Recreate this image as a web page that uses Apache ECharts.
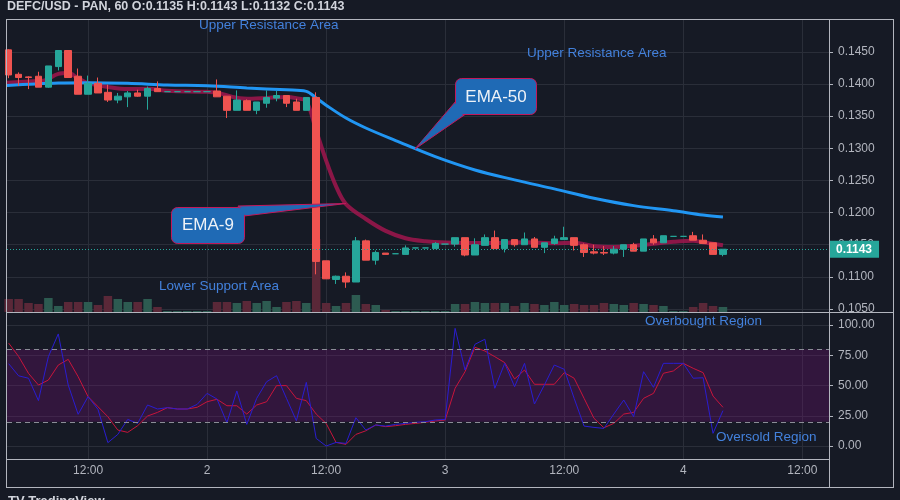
<!DOCTYPE html>
<html><head><meta charset="utf-8">
<script src="https://cdn.jsdelivr.net/npm/echarts@6/dist/echarts.min.js"></script>
<style>html,body{margin:0;padding:0;background:#161a25;}#c{width:900px;height:500px;}</style>
</head><body><div id="c"></div>
<script>
// hours since day-1 00:00 (one candle per hour)
const hours = [4,5,6,7,8,9,10,11,12,13,14,15,16,17,18,19,20,21,22,23,24,25,26,27,28,29,30,31,32,33,34,35,36,37,38,39,40,41,42,43,44,45,46,47,48,49,50,51,52,53,54,55,56,57,58,59,60,61,62,63,64,65,66,67,68,69,70,71,72,73,74,75,76];
const opens = [0.1453,0.1415,0.1411,0.1412,0.1395,0.1427,0.1452,0.1412,0.1384,0.1401,0.1387,0.1375,0.1380,0.1386,0.1381,0.1393,0.1388,0.1388,0.1388,0.1388,0.1388,0.1389,0.1381,0.1359,0.1374,0.1359,0.1370,0.1378,0.1382,0.1372,0.1359,0.1379,0.1125,0.1096,0.1101,0.1092,0.1156,0.1126,0.1137,0.1136,0.1135,0.1145,0.1145,0.1144,0.1151,0.1151,0.1161,0.1134,0.1149,0.1161,0.1144,0.1158,0.1150,0.1159,0.1146,0.1152,0.1158,0.1161,0.1150,0.1139,0.1138,0.1137,0.1143,0.1150,0.1140,0.1159,0.1153,0.1163,0.1163,0.1164,0.1157,0.1153,0.1135];
const closes = [0.1414,0.1410,0.1410,0.1395,0.1428,0.1452,0.1410,0.1384,0.1401,0.1386,0.1375,0.1381,0.1386,0.1381,0.1393,0.1388,0.1388,0.1388,0.1388,0.1388,0.1388,0.1380,0.1359,0.1375,0.1359,0.1372,0.1379,0.1382,0.1370,0.1359,0.1379,0.1124,0.1097,0.1101,0.1092,0.1156,0.1126,0.1138,0.1135,0.1136,0.1145,0.1145,0.1145,0.1152,0.1151,0.1161,0.1134,0.1150,0.1161,0.1144,0.1158,0.1150,0.1159,0.1146,0.1153,0.1159,0.1161,0.1149,0.1138,0.1137,0.1137,0.1143,0.1150,0.1140,0.1159,0.1153,0.1164,0.1163,0.1163,0.1157,0.1152,0.1135,0.1143];
const lows = [0.1409,0.1397,0.1392,0.1395,0.1394,0.1421,0.1410,0.1384,0.1384,0.1386,0.1372,0.1370,0.1364,0.1380,0.1360,0.1388,0.1388,0.1388,0.1388,0.1388,0.1388,0.1380,0.1347,0.1359,0.1359,0.1353,0.1363,0.1373,0.1364,0.1359,0.1359,0.1104,0.1097,0.1089,0.1083,0.1092,0.1126,0.1119,0.1135,0.1136,0.1135,0.1145,0.1145,0.1144,0.1151,0.1147,0.1132,0.1134,0.1149,0.1144,0.1138,0.1147,0.1150,0.1146,0.1137,0.1150,0.1158,0.1141,0.1131,0.1135,0.1134,0.1135,0.1131,0.1140,0.1140,0.1150,0.1153,0.1163,0.1163,0.1157,0.1152,0.1135,0.1132];
const highs = [0.1454,0.1418,0.1412,0.1419,0.1428,0.1452,0.1452,0.1424,0.1413,0.1410,0.1399,0.1386,0.1389,0.1391,0.1396,0.1404,0.1388,0.1388,0.1388,0.1388,0.1388,0.1407,0.1381,0.1390,0.1376,0.1372,0.1390,0.1389,0.1382,0.1377,0.1379,0.1387,0.1125,0.1102,0.1107,0.1162,0.1158,0.1141,0.1137,0.1136,0.1149,0.1145,0.1145,0.1154,0.1151,0.1161,0.1161,0.1160,0.1166,0.1172,0.1158,0.1158,0.1169,0.1162,0.1153,0.1164,0.1178,0.1161,0.1152,0.1150,0.1148,0.1148,0.1150,0.1153,0.1159,0.1165,0.1164,0.1163,0.1163,0.1170,0.1166,0.1153,0.1143];
const volumes = [13,13,9,8,14,6,10,10,10,7,16,13,10,10,13,5,1,1,1,1,1,10,10,9,11,9,11,5,10,11,9,73,9,6,9,17,8,7,2,1,1,1,1,1,1,8,8,10,9,9,9,6,9,8,7,10,7,8,7,7,9,8,7,9,8,7,6,1,1,5,9,6,5];
// EMA lines
const ema50Hours = [3.83,9,12,16,20,24,28,32,34,35,36,38,40,43,47,51,55,59,63,67,71,74,76];
const ema50Values = [0.13977,0.14015,0.1402,0.1401,0.13985,0.13972,0.13938,0.13908,0.13885,0.13782,0.1367,0.1347,0.13315,0.1312,0.1287,0.12663,0.12509,0.12368,0.12223,0.12108,0.12029,0.11962,0.1193];
const ema9Hours = [3.83,6,7.5,9,10,11,12,14,16,18,20,24,25,27,28.5,30,32,33,34,35,36,37,38,40,42,44,46,48,52,56,59,61,63,65,67,69,71,73,74,76];
const ema9Values = [0.14018,0.14038,0.14049,0.14157,0.14169,0.14089,0.14012,0.13954,0.1392,0.13926,0.13895,0.13877,0.13865,0.13785,0.13769,0.13782,0.13797,0.13777,0.13731,0.13269,0.12808,0.12408,0.12131,0.119,0.11715,0.116,0.11554,0.11535,0.11526,0.11538,0.11523,0.11531,0.11477,0.11465,0.11485,0.11515,0.11546,0.11562,0.11538,0.11492];
// oscillator pane (per hour)
const oscFast = [68,58,56,37.5,73.8,92.6,50.4,26.2,40.8,30.3,2.8,9.6,22,18.7,33.9,30.6,31.7,30.6,30.6,34.4,43.5,38.8,19.3,45.5,17.9,39.4,53.1,58.1,39.4,20.9,52.6,6.3,0,3,2.2,23.4,13.2,17.4,16.5,17.9,18.7,19.6,20.1,21.5,22,97.2,62.8,84,88.2,47.7,68.3,49,68.3,34.7,50.4,66.9,63.4,39.4,16.5,15.4,14.6,26.4,38,24.2,61.4,48.5,68.3,68.3,68.3,56,56.4,10.5,29.2];
const oscSlow = [85,74,60,50.4,54.5,66.9,71.6,57.3,40.8,32.5,24.2,13.2,11.3,16.8,24.8,27.8,31.7,30.6,30.6,32,36.6,38.6,33.3,33.3,26.4,33.9,36.6,49.9,49.9,39.4,37.5,26.4,18.7,3,1.4,9.6,12.6,17.4,16,16.8,17.9,18.7,19.6,20.7,21.5,47.7,61.4,81.6,78.5,73.8,68.9,55.4,62.8,51,51,51,60.6,56,39.4,22.9,15.1,18.7,26.4,27.8,39.4,43.5,60.1,62,68.3,64.2,60.6,41.3,32];
const priceTicks = [0.105,0.110,0.115,0.120,0.125,0.130,0.135,0.140,0.145];
const oscTicks = [0,25,50,75,100];
const oscBands = [20,80];
const timeTicks = [12,24,36,48,60,72,84];
const timeLabels = ['12:00','2','12:00','3','12:00','4','12:00'];
const lastPrice = closes[closes.length-1];

const UP='#26a69a', DN='#ef5350', VUP='#2d5b51', VDN='#5a2838';
const GRID='#2a2e39', AX='#b2b5be', FRAME='#b2b5be', ANN='#4381dc';
const FONT='Liberation Sans';

const candleData = hours.map((h,i)=>[h, opens[i], closes[i], lows[i], highs[i]]);
const volData = hours.map((h,i)=>({value:[h, volumes[i]], itemStyle:{color: closes[i]>=opens[i]?VUP:VDN}}));
const ema50Data = ema50Hours.map((h,i)=>[h, ema50Values[i]]);
const ema9Data = ema9Hours.map((h,i)=>[h, ema9Values[i]]);
const fastData = hours.map((h,i)=>[h, oscFast[i]]);
const slowData = hours.map((h,i)=>[h, oscSlow[i]]);

const chart = echarts.init(document.getElementById('c'), null, {renderer:'canvas', width:900, height:500});

function hline(x1,y,x2){return {type:'line', silent:true, z:50, shape:{x1:x1,y1:y,x2:x2,y2:y}, style:{stroke:FRAME, lineWidth:1}};}
function vline(x,y1,y2){return {type:'line', silent:true, z:50, shape:{x1:x,y1:y1,x2:x,y2:y2}, style:{stroke:FRAME, lineWidth:1}};}
function ann(text,x,y){return {type:'text', silent:true, z:60, x:x, y:y, style:{text:text, fill:ANN, font:'13.5px '+FONT, textVerticalAlign:'middle'}};}

const option = {
  backgroundColor:'#161a25',
  animation:false,
  textStyle:{fontFamily:FONT},
  title:{text:'DEFC/USD - PAN, 60 O:0.1135 H:0.1143 L:0.1132 C:0.1143', left:7, top:0, padding:0,
    textStyle:{color:'#d1d4dc', fontSize:12.5, fontWeight:'bold', fontFamily:FONT, lineHeight:13}},
  grid:[
    {left:7, top:19, width:822, height:293, outerBoundsMode:'none'},
    {left:7, top:312, width:822, height:147, outerBoundsMode:'none'}
  ],
  xAxis:[
    {type:'value', gridIndex:0, min:3.83, max:86.69, axisLine:{show:false},
     axisTick:{show:false, customValues:timeTicks}, axisLabel:{show:false, customValues:timeTicks},
     splitLine:{show:true, lineStyle:{color:GRID, width:1}}},
    {type:'value', gridIndex:1, min:3.83, max:86.69, axisLine:{show:false},
     axisTick:{show:false, customValues:timeTicks},
     axisLabel:{customValues:timeTicks, formatter:(v)=>{const k=timeTicks.indexOf(Math.round(v)); return k>=0?timeLabels[k]:'';}, color:AX, fontSize:12, margin:6, fontFamily:FONT},
     splitLine:{show:true, lineStyle:{color:GRID, width:1}}}
  ],
  yAxis:[
    {type:'value', gridIndex:0, position:'right', min:0.10454, max:0.1501,
     axisLine:{show:false},
     axisTick:{show:true, customValues:priceTicks, length:4, lineStyle:{color:AX}},
     axisLabel:{customValues:priceTicks, formatter:(v)=>v.toFixed(4), color:AX, fontSize:12, margin:9, fontFamily:FONT},
     splitLine:{show:true, lineStyle:{color:GRID, width:1}}},
    {type:'value', gridIndex:0, position:'left', min:0, max:293, show:false, splitLine:{show:false}},
    {type:'value', gridIndex:1, position:'right', min:-10.7, max:110.7,
     axisLine:{show:false},
     axisTick:{show:true, customValues:oscTicks, length:4, lineStyle:{color:AX}},
     axisLabel:{customValues:oscTicks, formatter:(v)=>v.toFixed(2), color:AX, fontSize:12, margin:9, fontFamily:FONT},
     splitLine:{show:true, lineStyle:{color:GRID, width:1}}}
  ],
  series:[
    {type:'bar', name:'Volume', xAxisIndex:0, yAxisIndex:1, data:volData, barWidth:8.5, z:1, silent:true},
    {type:'line', name:'EMA-9', xAxisIndex:0, yAxisIndex:0, data:ema9Data, smooth:0.35, showSymbol:false, z:2, silent:true,
     lineStyle:{color:'rgba(160,22,78,0.85)', width:4}},
    {type:'line', name:'EMA-50', xAxisIndex:0, yAxisIndex:0, data:ema50Data, smooth:0.35, showSymbol:false, z:3, silent:true,
     lineStyle:{color:'#2196f3', width:3},
     markLine:{silent:true, precision:4, symbol:['none','none'], lineStyle:{color:UP, type:[1,2], width:1},
       label:{show:true, position:'end', distance:1, formatter:()=>lastPrice.toFixed(4), color:'#ffffff', fontWeight:'bold', fontSize:12,
         backgroundColor:UP, padding:[3,7,2,6], fontFamily:FONT},
       data:[{yAxis:lastPrice}]}},
    {type:'candlestick', name:'DEFC/USD', xAxisIndex:0, yAxisIndex:0, data:candleData, barWidth:7, z:4, silent:true,
     encode:{x:0, y:[1,2,3,4]},
     itemStyle:{color:UP, color0:DN, borderColor:UP, borderColor0:DN, borderColorDoji:UP, borderWidth:1}},
    {type:'line', name:'Slow', xAxisIndex:1, yAxisIndex:2, data:slowData, showSymbol:false, z:3, silent:true,
     lineStyle:{color:'#c8143c', width:1},
     markArea:{silent:true, itemStyle:{color:'rgba(126,14,126,0.27)'}, data:[[{yAxis:oscBands[0]},{yAxis:oscBands[1]}]]},
     markLine:{silent:true, symbol:['none','none'], label:{show:false}, lineStyle:{color:'#8a8d96', type:[5,4], width:1},
       data:[{yAxis:oscBands[0]},{yAxis:oscBands[1]}]}},
    {type:'line', name:'Fast', xAxisIndex:1, yAxisIndex:2, data:fastData, showSymbol:false, z:4, silent:true,
     lineStyle:{color:'#2a1dd0', width:1}}
  ],
  graphic:[
    hline(6,19.5,894), hline(6,487.5,894), hline(6,312.5,894), hline(6,459.5,830),
    vline(6.5,19,488), vline(893.5,19,488), vline(829.5,19,488),
    ann('Upper Resistance Area',199,25), ann('Upper Resistance Area',527,53), ann('Lower Support Area',159,286),
    ann('Overbought Region',645,321), ann('Oversold Region',716,437),
    {type:'text', silent:true, z:40, x:8, y:495, style:{text:'TV TradingView', fill:'#d1d4dc', font:'bold 13px '+FONT, textVerticalAlign:'top'}},
    // EMA-50 callout
    {type:'polygon', silent:true, z:70, shape:{points:[[456,101],[415,149],[465,114.5]]}, style:{fill:'#1f6ab5', stroke:'#c2185b', lineWidth:1}},
    {type:'rect', silent:true, z:71, shape:{x:455.5,y:78.5,width:81,height:36,r:6}, style:{fill:'#1f6ab5', stroke:'#c2185b', lineWidth:1}},
    {type:'polygon', silent:true, z:72, shape:{points:[[457,102],[420,143],[464,113.5]]}, style:{fill:'#1f6ab5'}},
    {type:'text', silent:true, z:73, x:496, y:97, style:{text:'EMA-50', fill:'#eef2f7', font:'17px '+FONT, align:'center', verticalAlign:'middle'}},
    // EMA-9 callout
    {type:'polygon', silent:true, z:70, shape:{points:[[238,206],[346,203.5],[244,216]]}, style:{fill:'#1f6ab5', stroke:'#c2185b', lineWidth:1}},
    {type:'rect', silent:true, z:71, shape:{x:171.5,y:207.5,width:73,height:36,r:6}, style:{fill:'#1f6ab5', stroke:'#c2185b', lineWidth:1}},
    {type:'polygon', silent:true, z:72, shape:{points:[[240,208],[330,204.5],[243,215]]}, style:{fill:'#1f6ab5'}},
    {type:'text', silent:true, z:73, x:208, y:225, style:{text:'EMA-9', fill:'#eef2f7', font:'17px '+FONT, align:'center', verticalAlign:'middle'}}
  ]
};
chart.setOption(option);
</script></body></html>
